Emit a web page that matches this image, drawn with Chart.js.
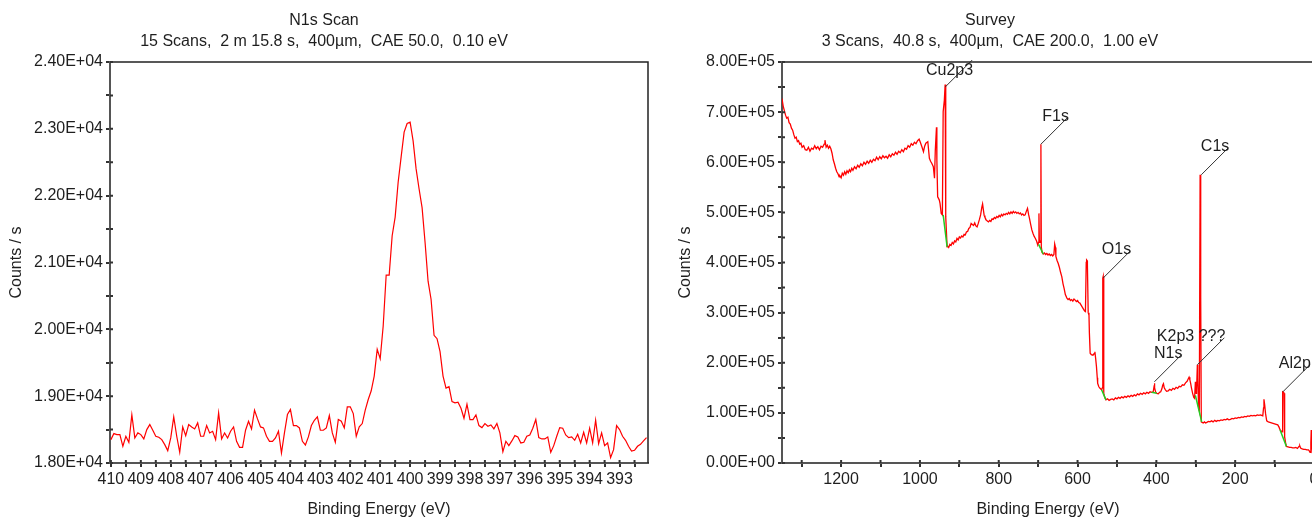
<!DOCTYPE html>
<html>
<head>
<meta charset="utf-8">
<title>N1s Scan / Survey</title>
<script src="https://cdn.jsdelivr.net/npm/chart.js@4.4.1/dist/chart.umd.min.js"></script>
<style>
    html, body { margin: 0; padding: 0; background: #fff; overflow: hidden; }
    #wrap { position: relative; width: 1332px; height: 521px; }
    #wrap canvas { position: absolute; top: 0; }
</style>
</head>
<body>
<div id="wrap">
    <canvas id="n1s-chart" width="666" height="521" style="left:0px"></canvas>
    <canvas id="survey-chart" width="666" height="521" style="left:666px"></canvas>
</div>
<script>
// Spectra.js - N1s high-res scan + survey, drawn with Chart.js

const FONT = "'Liberation Sans', Arial, sans-serif";
const TEXT = '#1e1e1e';

// ---- N1s scan (0.10 eV step, starting at 410.0 eV) ----
const n1sTitle = ['N1s Scan', '15 Scans,  2 m 15.8 s,  400µm,  CAE 50.0,  0.10 eV'];
const n1sStartEV = 410.0;
const n1sStepEV = 0.1;
const n1sCounts = [
    18350, 18440, 18425, 18425, 18250, 18400, 18310, 18720, 18375, 18450,
    18425, 18360, 18500, 18575, 18490, 18400, 18385, 18350, 18275, 18185,
    18375, 18690, 18400, 18160, 18540, 18410, 18575, 18540, 18510, 18600,
    18400, 18400, 18560, 18450, 18475, 18350, 18750, 18360, 18450, 18375,
    18475, 18540, 18325, 18235, 18235, 18490, 18625, 18510, 18790, 18660,
    18540, 18525, 18400, 18325, 18325, 18375, 18475, 18150, 18450, 18725,
    18800, 18560, 18560, 18525, 18325, 18270, 18390, 18560, 18640, 18690,
    18490, 18490, 18525, 18710, 18450, 18310, 18650, 18625, 18525, 18840,
    18840, 18740, 18400, 18540, 18590, 18790, 18950, 19080, 19300, 19700,
    19560, 20050, 20812, 20812, 21400, 21680, 22200, 22580, 22950, 23080,
    23100, 22820, 22400, 22100, 21820, 21300, 20720, 20450, 19910, 19860,
    19665, 19300, 19120, 19142, 18920, 18900, 18910, 18818, 18670, 18880,
    18650, 18650, 18720, 18560, 18530, 18590, 18550, 18570, 18510, 18590,
    18450, 18170, 18325, 18260, 18330, 18410, 18390, 18300, 18310, 18400,
    18420, 18520, 18650, 18380, 18360, 18360, 18390, 18160, 18260, 18400,
    18530, 18520, 18420, 18380, 18390, 18340, 18430, 18300, 18460, 18300,
    18520, 18300, 18640, 18290, 18450, 18260, 18300, 18080, 18200, 18560,
    18500, 18400, 18340, 18250, 18180, 18190, 18250, 18280, 18330, 18380
];
const n1sRangeEV = [392.05, 410.03];
const n1sRangeCounts = [18000, 24000];

// ---- Survey (binding energy eV, counts/s in thousands) ----
const surveyTitle = ['Survey', '3 Scans,  40.8 s,  400µm,  CAE 200.0,  1.00 eV'];
const surveyPoints = [
    [1350, 727], [1347, 712], [1344, 703], [1341, 694], [1338, 688], [1335, 690], [1332, 679], [1329, 676],
    [1326, 668], [1323, 664], [1320, 655], [1317, 648], [1314, 650], [1311, 641], [1308, 643], [1305, 636],
    [1302, 638], [1299, 630], [1295, 633], [1291, 625], [1287, 624], [1283, 630], [1279, 622], [1275, 628],
    [1271, 626], [1267, 633], [1263, 627], [1259, 631], [1255, 625], [1251, 632], [1247, 630], [1243, 636],
    [1241, 644], [1238, 630], [1235, 634], [1232, 628], [1229, 632], [1226, 627], [1223, 618], [1220, 605],
    [1217, 597], [1214, 588], [1211, 581], [1208, 577], [1205, 571], [1203, 573], [1200, 569], [1197, 578],
    [1194, 574], [1191, 581], [1188, 576], [1185, 583], [1182, 579], [1179, 585], [1176, 581], [1173, 588],
    [1170, 584], [1166, 591], [1162, 587], [1158, 594], [1154, 590], [1150, 597], [1146, 593], [1142, 600],
    [1138, 596], [1134, 602], [1130, 598], [1126, 604], [1122, 600], [1118, 606], [1114, 603], [1110, 610],
    [1106, 605], [1102, 611], [1098, 607], [1094, 613], [1090, 609], [1086, 612], [1082, 608], [1078, 615],
    [1074, 611], [1070, 617], [1066, 614], [1062, 620], [1058, 616], [1054, 622], [1050, 619], [1046, 625],
    [1042, 621], [1038, 628], [1034, 626], [1030, 633], [1026, 630], [1022, 637], [1018, 634], [1014, 640],
    [1010, 637], [1006, 643], [1002, 646], [999, 640], [995, 631], [991, 621], [988, 632], [985, 638],
    [980, 641], [976, 608], [973, 602], [970, 598], [966, 591], [963, 568], [961, 624], [958, 670],
    [957, 605], [955, 531], [951, 525], [949, 518], [946, 498], [943, 495], [941, 701], [938, 724],
    [936, 755], [935, 620], [934, 491], [931, 431], [929, 432], [927, 430], [924, 436], [921, 434],
    [918, 440], [915, 437], [912, 443], [909, 441], [906, 448], [903, 445], [900, 451], [897, 449],
    [894, 453], [891, 451], [888, 456], [885, 455], [882, 461], [879, 462], [876, 468], [873, 470],
    [870, 478], [867, 476], [864, 474], [861, 479], [858, 473], [855, 471], [852, 478], [849, 486],
    [846, 495], [843, 510], [841, 517], [839, 505], [837, 494], [835, 490], [832, 485], [829, 483],
    [826, 481], [823, 484], [820, 482], [817, 487], [814, 486], [811, 490], [808, 488], [805, 492],
    [802, 490], [799, 494], [796, 491], [793, 496], [790, 493], [787, 497], [784, 495], [781, 498],
    [778, 496], [775, 500], [772, 497], [769, 501], [766, 498], [763, 502], [760, 499], [757, 501],
    [754, 498], [751, 500], [748, 497], [745, 499], [742, 495], [739, 497], [736, 494], [733, 495],
    [730, 502], [727, 508], [724, 495], [722, 488], [719, 476], [716, 465], [713, 458], [710, 452],
    [707, 448], [704, 443], [701, 435], [699, 440], [698, 498], [697, 445], [695, 440], [693, 636],
    [692, 431], [690, 420], [687, 417], [684, 419], [681, 416], [678, 418], [675, 415], [672, 417],
    [669, 414], [666, 416], [663, 413], [660, 416], [658, 437], [656, 430], [655, 412], [652, 404],
    [649, 398], [646, 390], [643, 380], [640, 372], [637, 358], [634, 348], [631, 336], [627, 329],
    [624, 326], [621, 328], [618, 324], [615, 326], [612, 323], [609, 327], [606, 325], [603, 322],
    [600, 324], [597, 320], [594, 319], [591, 315], [588, 311], [585, 307], [582, 303], [580, 302],
    [578, 400], [577, 405], [576, 404], [575, 395], [573, 300], [571, 295], [570, 260], [568, 219],
    [565, 216], [561, 215], [558, 218], [556, 222], [554, 208], [552, 192], [550, 170], [549, 159],
    [546, 152], [543, 149], [539, 146], [537, 150], [536, 369], [535, 372], [534, 365], [533, 139],
    [531, 131], [528, 126], [524, 128], [520, 125], [516, 127], [512, 128], [508, 126], [504, 130],
    [500, 128], [496, 131], [492, 129], [488, 132], [484, 130], [480, 133], [476, 131], [472, 134],
    [468, 132], [464, 135], [460, 133], [456, 136], [452, 134], [448, 138], [444, 136], [440, 139],
    [436, 137], [432, 140], [428, 138], [424, 141], [420, 139], [416, 142], [412, 141], [408, 142],
    [406, 152], [405, 159], [404, 150], [402, 142], [399, 139], [395, 138], [392, 141], [389, 142],
    [386, 148], [384, 155], [382, 158], [380, 150], [377, 146], [374, 143], [370, 144], [366, 147],
    [362, 145], [358, 149], [354, 147], [350, 151], [346, 149], [342, 153], [338, 152], [334, 156],
    [330, 155], [326, 160], [322, 163], [319, 168], [317, 171], [315, 166], [313, 159], [311, 150],
    [308, 139], [305, 131], [303, 129], [301, 162], [300, 150], [299, 139], [298, 145], [296, 196],
    [295, 170], [294, 146], [293, 112], [291, 105], [289, 575], [288, 520], [287, 332], [286, 82],
    [284, 81], [281, 80], [278, 82], [275, 80], [272, 81], [268, 83], [264, 82], [260, 84],
    [256, 82], [252, 85], [248, 83], [244, 85], [240, 84], [236, 86], [232, 85], [228, 87],
    [224, 86], [220, 88], [216, 86], [212, 87], [208, 89], [204, 88], [200, 90], [196, 89],
    [192, 91], [188, 90], [184, 92], [180, 91], [176, 93], [172, 92], [168, 94], [164, 93],
    [160, 95], [156, 94], [152, 95], [148, 94], [144, 96], [140, 95], [136, 96], [133, 95],
    [130, 94], [128, 110], [127, 127], [125, 115], [123, 99], [120, 84], [116, 82], [112, 81],
    [108, 80], [104, 79], [100, 78], [96, 77], [92, 76], [89, 72], [86, 66], [84, 64],
    [81, 62], [80, 100], [79, 142], [77, 141], [76, 139], [75, 90], [74, 52], [72, 40],
    [70, 33], [66, 32], [62, 31], [58, 31], [54, 30], [50, 30], [46, 31], [42, 29],
    [38, 33], [36, 34], [34, 30], [30, 28], [26, 27], [22, 27], [18, 26], [14, 26],
    [12, 24], [10, 21], [8, 40], [7, 66], [6, 40], [4, 22], [2, 24], [0, 23]
];
// background (green) segments under each identified peak: [start, end] as [eV, kcounts]
const backgroundSegments = [
    [[941, 495], [931, 431]],
    [[699, 436], [687, 417]],
    [[539, 146], [528, 126]],
    [[412, 141], [399, 139]],
    [[301, 135], [285, 82]],
    [[86, 66], [70, 33]]
];
// peak annotations: leader line starts at the peak top
const peakNames = ['Cu2p3', 'F1s', 'O1s', 'K2p3 ???', 'N1s', 'C1s', 'Al2p'];
const peakEnergy = [936, 693, 535, 296, 405, 286, 79];
const peakKCounts = [750, 636, 369, 196, 162, 575, 142];
const surveyRangeEV = [0, 1350];
const surveyRangeCounts = [0, 800000];

function sciLabel(v) {
    if (v === 0) return '0.00E+00';
    const e = Math.floor(Math.log10(Math.abs(v)) + 1e-9);
    const m = v / Math.pow(10, e);
    return m.toFixed(2) + 'E+' + String(e).padStart(2, '0');
}

function isMultiple(v, step) {
    return Math.abs(v / step - Math.round(v / step)) < 1e-6;
}

// top/right frame lines + the inner half of each tick mark
const framePlugin = {
    id: 'frame',
    afterDraw(chart) {
        const { ctx, chartArea: a, scales } = chart;
        ctx.save();
        ctx.strokeStyle = '#222';
        ctx.lineWidth = 1.5;
        ctx.beginPath();
        ctx.moveTo(a.left, a.top);
        ctx.lineTo(a.right, a.top);
        ctx.lineTo(a.right, a.bottom);
        ctx.stroke();

        ctx.strokeStyle = '#333';
        ctx.lineWidth = 2;
        ctx.beginPath();
        scales.x.ticks.forEach(t => {
            const px = scales.x.getPixelForValue(t.value);
            ctx.moveTo(px, a.bottom);
            ctx.lineTo(px, a.bottom - 3);
        });
        scales.y.ticks.forEach(t => {
            const py = scales.y.getPixelForValue(t.value);
            ctx.moveTo(a.left, py);
            ctx.lineTo(a.left + 3, py);
        });
        ctx.stroke();
        ctx.restore();
    }
};

const peakLabelPlugin = {
    id: 'peakLabels',
    afterDatasetsDraw(chart) {
        const { ctx, chartArea: a, scales: { x, y } } = chart;
        ctx.save();
        ctx.font = `16px ${FONT}`;
        ctx.fillStyle = TEXT;
        ctx.strokeStyle = '#333';
        ctx.lineWidth = 1;
        ctx.textAlign = 'right';
        ctx.textBaseline = 'middle';
        peakNames.forEach((name, i) => {
            const px = x.getPixelForValue(peakEnergy[i]);
            const py = y.getPixelForValue(peakKCounts[i] * 1000);
            const ex = px + 27;
            const ey = py - 27;
            ctx.beginPath();
            ctx.moveTo(px, py);
            ctx.lineTo(ex, ey);
            ctx.stroke();
            ctx.fillText(name, ex + 1, Math.max(ey - 1, a.top + 9));
        });
        ctx.restore();
    }
};

function titleOpts(lines) {
    return {
        display: true,
        text: lines,
        color: TEXT,
        font: { family: FONT, size: 16, weight: 'normal', lineHeight: 1.3 },
        padding: { top: 10, bottom: 10.4 }
    };
}

function xAxis(range, step, labelFn) {
    return {
        type: 'linear',
        reverse: true,
        min: range[0],
        max: range[1],
        afterFit: s => { s.height = 58; },
        ticks: {
            stepSize: step,
            includeBounds: false,
            autoSkip: false,
            maxRotation: 0,
            padding: 3,
            color: TEXT,
            font: { family: FONT, size: 16 },
            callback: labelFn
        },
        grid: { drawOnChartArea: false, tickLength: 4, tickColor: '#333', lineWidth: 2 },
        border: { color: '#555', width: 2 },
        title: {
            display: true,
            text: 'Binding Energy (eV)',
            color: TEXT,
            font: { family: FONT, size: 16 },
            padding: { top: 0, bottom: 2 }
        }
    };
}

function yAxis(range, step, labelStep, width, titlePad) {
    return {
        type: 'linear',
        min: range[0],
        max: range[1],
        afterFit: s => { s.width = width; },
        ticks: {
            stepSize: step,
            autoSkip: false,
            padding: 3,
            color: TEXT,
            font: { family: FONT, size: 16 },
            callback: v => isMultiple(v, labelStep) ? sciLabel(v) : ''
        },
        grid: { drawOnChartArea: false, tickLength: 4, tickColor: '#333', lineWidth: 2 },
        border: { color: '#555', width: 2 },
        title: {
            display: true,
            text: 'Counts / s',
            color: TEXT,
            font: { family: FONT, size: 16 },
            padding: { top: titlePad, bottom: 0 }
        }
    };
}

const baseOptions = {
    responsive: false,
    animation: false,
    devicePixelRatio: 1,
    layout: { padding: { left: 0, right: 18, top: 0, bottom: 0 } },
    elements: { point: { radius: 0 }, line: { tension: 0 } }
};

function initN1sChart() {
    const ctx = document.getElementById('n1s-chart');
    const points = n1sCounts.map((c, i) => ({ x: n1sStartEV - i * n1sStepEV, y: c }));

    new Chart(ctx, {
        type: 'line',
        data: {
            datasets: [{
                data: points,
                borderColor: '#ff0000',
                borderWidth: 1.2,
                fill: false
            }]
        },
        options: {
            ...baseOptions,
            plugins: {
                legend: { display: false },
                tooltip: { enabled: false },
                title: titleOpts(n1sTitle)
            },
            scales: {
                x: xAxis(n1sRangeEV, 0.5, v => isMultiple(v, 1) ? String(Math.round(v)) : ''),
                y: yAxis(n1sRangeCounts, 500, 1000, 110, 7.4)
            }
        },
        plugins: [framePlugin]
    });
}

function initSurveyChart() {
    const ctx = document.getElementById('survey-chart');
    const trace = surveyPoints.map(p => ({ x: p[0], y: p[1] * 1000 }));

    const bg = [];
    backgroundSegments.forEach(seg => {
        bg.push({ x: seg[0][0], y: seg[0][1] * 1000 });
        bg.push({ x: seg[1][0], y: seg[1][1] * 1000 });
        bg.push({ x: seg[1][0], y: null });
    });

    new Chart(ctx, {
        type: 'line',
        data: {
            datasets: [
                {
                    data: bg,
                    borderColor: '#22cc22',
                    borderWidth: 1.5,
                    spanGaps: false,
                    fill: false
                },
                {
                    data: trace,
                    borderColor: '#ff0000',
                    borderWidth: 1.3,
                    fill: false
                }
            ]
        },
        options: {
            ...baseOptions,
            plugins: {
                legend: { display: false },
                tooltip: { enabled: false },
                title: titleOpts(surveyTitle)
            },
            scales: {
                x: xAxis(surveyRangeEV, 100, v => isMultiple(v, 200) ? String(Math.round(v)) : ''),
                y: yAxis(surveyRangeCounts, 50000, 100000, 116, 10)
            }
        },
        plugins: [framePlugin, peakLabelPlugin]
    });
}

document.addEventListener('DOMContentLoaded', () => {
    if (typeof Chart === 'undefined') {
        console.warn('Chart.js is not loaded.');
        return;
    }
    initN1sChart();
    initSurveyChart();
});
</script>
</body>
</html>
